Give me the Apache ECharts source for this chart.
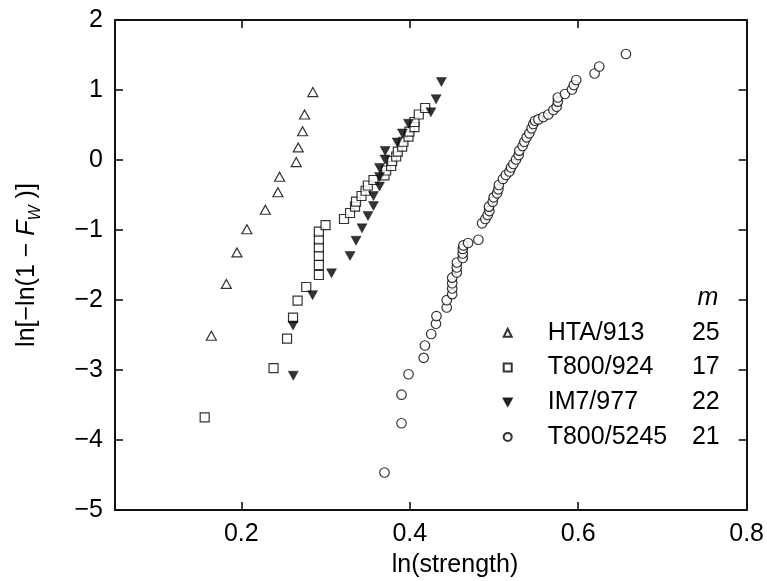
<!DOCTYPE html>
<html>
<head>
<meta charset="utf-8">
<script src="https://cdn.jsdelivr.net/npm/echarts@6/dist/echarts.min.js"></script>
<style>html,body{margin:0;padding:0;background:#fff}#c{width:767px;height:581px}</style>
</head>
<body>
<div id="c"></div>
<script>
// ---- data ----
const seriesNames = ['HTA/913', 'T800/924', 'IM7/977', 'T800/5245'];
const mValues = [25, 17, 22, 21];

const htaX = [0.1644,0.1822,0.1948,0.2066,0.2285,0.2434,0.2454,0.2652,0.2676,0.2727,0.2751,0.2849];
const htaY = [-2.51,-1.77,-1.32,-0.99,-0.71,-0.46,-0.24,-0.03,0.18,0.41,0.65,0.97];

const t924X = [0.1565,0.2383,0.2543,0.2614,0.2668,0.2771,0.2921,0.2921,0.2921,0.2921,0.2921,0.2921,0.3000,0.3219,0.3291,0.3350,0.3362,0.3427,0.3475,0.3502,0.3569,0.3700,0.3720,0.3779,0.3791,0.3839,0.3858,0.3910,0.3925,0.3985,0.3996,0.4056,0.4056,0.4107,0.4183];
const t924Y = [-3.676,-2.974,-2.553,-2.253,-2.010,-1.814,-1.643,-1.500,-1.371,-1.247,-1.133,-1.024,-0.929,-0.843,-0.757,-0.667,-0.596,-0.514,-0.439,-0.364,-0.286,-0.221,-0.150,-0.086,-0.014,0.050,0.119,0.190,0.261,0.333,0.404,0.471,0.543,0.650,0.743];

const im7X = [0.2617,0.2614,0.2846,0.3071,0.3291,0.3362,0.3433,0.3504,0.3569,0.3569,0.3641,0.3641,0.3641,0.3706,0.3708,0.3851,0.3913,0.3985,0.4251,0.4313,0.4376];
const im7Y = [-3.081,-2.364,-1.931,-1.619,-1.371,-1.153,-0.976,-0.800,-0.657,-0.514,-0.379,-0.243,-0.114,0.007,0.129,0.250,0.379,0.518,0.681,0.869,1.114];

const t5245X = [0.3700,0.3902,0.3902,0.3985,0.4165,0.4180,0.4255,0.4311,0.4317,0.4439,0.4439,0.4504,0.4504,0.4504,0.4504,0.4558,0.4558,0.4560,0.4629,0.4629,0.4629,0.4637,0.4693,0.4815,0.4859,0.4898,0.4925,0.4945,0.4940,0.4985,0.4996,0.5037,0.5052,0.5058,0.5106,0.5141,0.5183,0.5203,0.5230,0.5262,0.5293,0.5301,0.5340,0.5361,0.5388,0.5420,0.5447,0.5467,0.5488,0.5527,0.5586,0.5645,0.5705,0.5744,0.5758,0.5758,0.5843,0.5926,0.5948,0.5977,0.6195,0.6250,0.6567];
const t5245Y = [-4.464,-3.761,-3.353,-3.061,-2.826,-2.650,-2.486,-2.339,-2.229,-2.107,-2.003,-1.917,-1.836,-1.761,-1.681,-1.607,-1.536,-1.464,-1.400,-1.336,-1.271,-1.221,-1.186,-1.139,-0.904,-0.843,-0.786,-0.729,-0.667,-0.596,-0.533,-0.476,-0.419,-0.357,-0.271,-0.214,-0.164,-0.107,-0.057,0.007,0.071,0.133,0.200,0.261,0.324,0.381,0.453,0.514,0.561,0.579,0.614,0.650,0.714,0.761,0.833,0.893,0.943,1.007,1.071,1.143,1.236,1.336,1.514];

const xTicks = [0.2, 0.4, 0.6, 0.8];
const xTickLabels = ['0.2', '0.4', '0.6', '0.8'];
const yTicks = [-5, -4, -3, -2, -1, 0, 1, 2];
const yTickLabels = ['\u22125', '\u22124', '\u22123', '\u22122', '\u22121', '0', '1', '2'];

// ---- chart ----
const FONT = "'Liberation Sans', Arial, Helvetica, sans-serif";
const FS = 25;
const pair = (xs, ys) => xs.map((x, i) => [x, ys[i]]);
const mOf = {};
seriesNames.forEach((n, i) => { mOf[n] = mValues[i]; });

const lineStyle = { color: '#111', width: 2 };
const tickStyle = { color: '#111', width: 1.6 };

const openStyle = { color: '#fff', borderColor: '#000', borderWidth: 1.2 };

const chart = echarts.init(document.getElementById('c'), null, { renderer: 'canvas' });
chart.setOption({
  animation: false,
  backgroundColor: '#fff',
  grid: { left: 115, right: 19.5, top: 20, bottom: 71 },
  xAxis: [
    {
      type: 'value', min: 0.05, max: 0.8, position: 'bottom',
      axisLine: { show: true, onZero: false, lineStyle: lineStyle },
      axisTick: { show: true, inside: true, length: 8, lineStyle: tickStyle, customValues: xTicks },
      axisLabel: {
        show: true, customValues: xTicks, margin: 12,
        color: '#000', fontSize: FS, fontFamily: FONT,
        formatter: v => { const i = xTicks.findIndex(t => Math.abs(t - v) < 1e-9); return i >= 0 ? xTickLabels[i] : ''; }
      },
      splitLine: { show: false }
    },
    {
      type: 'value', min: 0.05, max: 0.8, position: 'top',
      axisLine: { show: true, onZero: false, lineStyle: lineStyle },
      axisTick: { show: true, inside: true, length: 8, lineStyle: tickStyle, customValues: xTicks },
      axisLabel: { show: false },
      splitLine: { show: false }
    }
  ],
  yAxis: [
    {
      type: 'value', min: -5, max: 2, interval: 1, position: 'left',
      axisLine: { show: true, onZero: false, lineStyle: lineStyle },
      axisTick: { show: true, inside: true, length: 8, lineStyle: tickStyle },
      axisLabel: {
        show: true, margin: 12, color: '#000', fontSize: FS, fontFamily: FONT,
        formatter: v => { const i = yTicks.indexOf(Math.round(v)); return i >= 0 ? yTickLabels[i] : ''; }
      },
      splitLine: { show: false }
    },
    {
      type: 'value', min: -5, max: 2, interval: 1, position: 'right',
      axisLine: { show: true, onZero: false, lineStyle: lineStyle },
      axisTick: { show: true, inside: true, length: 8, lineStyle: tickStyle },
      axisLabel: { show: false },
      splitLine: { show: false }
    }
  ],
  legend: {
    orient: 'vertical', left: 502.7, top: 320.3, padding: 0,
    itemWidth: 8, itemHeight: 8, itemGap: 9.7,
    selectedMode: false,
    data: seriesNames,
    formatter: name => '{n|' + name + '}{m|' + mOf[name] + '}',
    textStyle: {
      color: '#000', fontSize: FS, fontFamily: FONT,
      rich: {
        n: { fontSize: FS, fontFamily: FONT, color: '#000', width: 140, padding: [0, 0, 0, 31], lineHeight: 26 },
        m: { fontSize: FS, fontFamily: FONT, color: '#000', width: 32, align: 'right', lineHeight: 26 }
      }
    }
  },
  graphic: [
    {
      type: 'text', x: 718.3, y: 298.5, silent: true,
      style: { text: 'm', fill: '#000', font: 'italic ' + FS + 'px ' + FONT, align: 'right', verticalAlign: 'middle', textAlign: 'right', textVerticalAlign: 'middle' }
    },
    {
      type: 'text', x: 455, y: 565, silent: true,
      style: { text: 'ln(strength)', fill: '#000', font: FS + 'px ' + FONT, align: 'center', verticalAlign: 'middle', textAlign: 'center', textVerticalAlign: 'middle' }
    },
    {
      type: 'text', x: 27, y: 265, rotation: Math.PI / 2, silent: true,
      style: {
        text: '{a|ln[\u2212ln(1 \u2212 }{f|F}{w|W}{a| )]}',
        fill: '#000',
        align: 'center', verticalAlign: 'middle', textAlign: 'center', textVerticalAlign: 'middle',
        rich: {
          a: { fontSize: FS, fontFamily: FONT, fill: '#000', lineHeight: 34, verticalAlign: 'middle' },
          f: { fontSize: FS, fontFamily: FONT, fontStyle: 'italic', fill: '#000', lineHeight: 34, verticalAlign: 'middle' },
          w: { fontSize: 16, fontFamily: FONT, fontStyle: 'italic', fill: '#000', lineHeight: 16, verticalAlign: 'bottom' }
        }
      }
    }
  ],
  series: [
    {
      name: seriesNames[0], type: 'scatter', xAxisIndex: 0, yAxisIndex: 0,
      symbol: 'triangle', symbolSize: [10, 9], itemStyle: openStyle,
      data: pair(htaX, htaY)
    },
    {
      name: seriesNames[1], type: 'scatter', xAxisIndex: 0, yAxisIndex: 0,
      symbol: 'rect', symbolSize: 9, itemStyle: openStyle,
      data: pair(t924X, t924Y)
    },
    {
      name: seriesNames[2], type: 'scatter', xAxisIndex: 0, yAxisIndex: 0,
      symbol: 'path://M0,0L10,0L5,9Z', symbolSize: [10, 9],
      itemStyle: { color: '#000', borderColor: '#000', borderWidth: 0.5 },
      data: pair(im7X, im7Y)
    },
    {
      name: seriesNames[3], type: 'scatter', xAxisIndex: 0, yAxisIndex: 0,
      symbol: 'circle', symbolSize: 9.5, itemStyle: openStyle,
      data: pair(t5245X, t5245Y)
    }
  ]
});
</script>
</body>
</html>
